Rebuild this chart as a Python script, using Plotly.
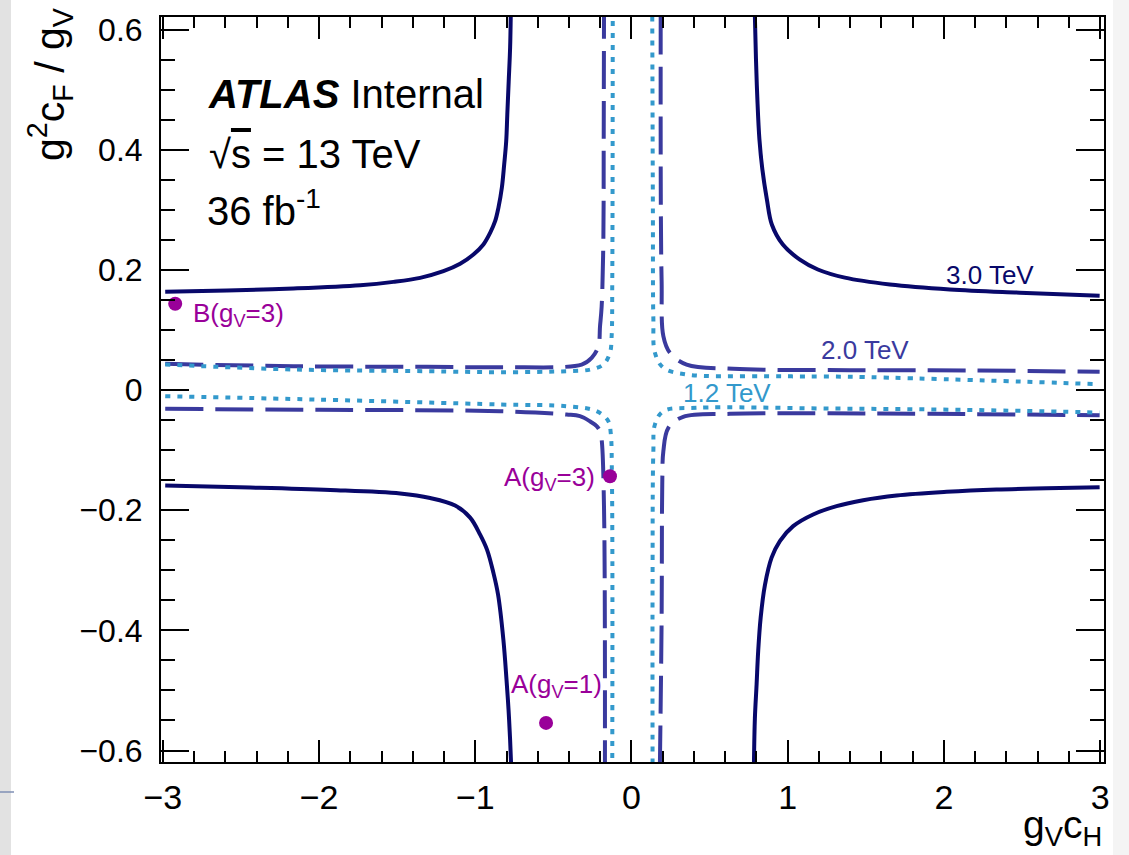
import plotly.graph_objects as go

# ---- Expected-limit contours in the (g_V c_H, g^2 c_F / g_V) plane ----
# 3.0 TeV (solid), four branches
M30_UL_X = [-2.985, -2.590, -2.164, -1.737, -1.524, -1.353, -1.204, -1.097, -1.012, -0.948, -0.905,
            -0.873, -0.852, -0.830, -0.815, -0.802, -0.795, -0.786, -0.777, -0.773]
M30_UL_Y = [0.1634, 0.1656, 0.1690, 0.1744, 0.1800, 0.1867, 0.1977, 0.2100, 0.2255, 0.2422, 0.2616,
            0.2809, 0.3032, 0.3365, 0.3753, 0.4141, 0.4586, 0.5140, 0.5696, 0.6215]
M30_LL_X = [-2.985, -2.441, -1.929, -1.481, -1.289, -1.129, -1.033, -0.969, -0.925, -0.884, -0.854,
            -0.820, -0.800, -0.787, -0.777, -0.771]
M30_LL_Y = [-0.159, -0.1623, -0.1664, -0.1723, -0.1798, -0.1923, -0.2123, -0.2406, -0.2656, -0.3042,
            -0.3408, -0.4158, -0.4824, -0.5324, -0.5824, -0.621]
M30_UR_X = [0.790, 0.797, 0.806, 0.819, 0.838, 0.867, 0.899, 0.969, 1.078, 1.193, 1.366, 1.654,
            2.038, 2.486, 2.997]
M30_UR_Y = [0.6215, 0.550, 0.4836, 0.417, 0.367, 0.317, 0.275, 0.242, 0.217, 0.2006, 0.187, 0.1756,
            0.1673, 0.162, 0.157]
M30_LR_X = [0.784, 0.790, 0.801, 0.811, 0.827, 0.854, 0.897, 0.950, 1.035, 1.163, 1.313, 1.483,
            1.697, 2.017, 2.337, 2.656, 2.997]
M30_LR_Y = [-0.621, -0.546, -0.490, -0.435, -0.379, -0.325, -0.279, -0.2513, -0.2266, -0.2071,
            -0.1933, -0.1834, -0.1756, -0.1695, -0.1656, -0.1635, -0.1618]

# 2.0 TeV (dashed)
M20_UL_X = [-2.985, -2.164, -1.310, -0.841, -0.319, -0.255, -0.212, -0.2015, -0.191, -0.180, -0.178, -0.176]
M20_UL_Y = [0.0436, 0.0396, 0.0386, 0.0380, 0.0424, 0.0536, 0.0729, 0.106, 0.139, 0.2505, 0.400, 0.622]
M20_LL_X = [-2.985, -2.0, -0.841, -0.415, -0.330, -0.266, -0.223, -0.2015, -0.191, -0.176, -0.170]
M20_LL_Y = [-0.0313, -0.033, -0.0352, -0.0408, -0.0436, -0.052, -0.060, -0.0686, -0.0824, -0.193, -0.622]
M20_UR_X = [0.187, 0.188, 0.193, 0.204, 0.246, 0.353, 0.651, 1.398, 2.2, 2.997]
M20_UR_Y = [0.622, 0.300, 0.181, 0.0896, 0.0619, 0.0424, 0.0353, 0.033, 0.0325, 0.0303]
M20_LR_X = [0.182, 0.193, 0.197, 0.204, 0.236, 0.331, 0.630, 1.483, 2.997]
M20_LR_Y = [-0.622, -0.379, -0.157, -0.102, -0.063, -0.0446, -0.0397, -0.0391, -0.0419]

# 1.2 TeV (dotted)
M12_UL_X = [-2.985, -2.164, -1.310, -0.841, -0.415, -0.265, -0.180, -0.1376, -0.127, -0.123, -0.120]
M12_UL_Y = [0.0424, 0.0341, 0.0313, 0.0296, 0.0313, 0.034, 0.0424, 0.062, 0.0896, 0.181, 0.622]
M12_LL_X = [-2.985, -2.0, -0.841, -0.415, -0.223, -0.148, -0.133, -0.125, -0.123]
M12_LL_Y = [-0.0103, -0.016, -0.0241, -0.027, -0.0352, -0.052, -0.0713, -0.150, -0.622]
M12_UR_X = [0.133, 0.137, 0.140, 0.150, 0.204, 0.353, 0.865, 1.398, 2.997]
M12_UR_Y = [0.622, 0.300, 0.120, 0.062, 0.037, 0.0258, 0.023, 0.022, 0.0097]
M12_LR_X = [0.135, 0.135, 0.140, 0.150, 0.204, 0.417, 1.270, 2.123, 2.997]
M12_LR_Y = [-0.622, -0.324, -0.102, -0.0574, -0.0353, -0.0297, -0.0308, -0.033, -0.0375]

# Benchmark models
BENCH_NAMES = ["B(g<sub>V</sub>=3)", "A(g<sub>V</sub>=3)", "A(g<sub>V</sub>=1)"]
BENCH_X = [-2.921, -0.1376, -0.547]
BENCH_Y = [0.1435, -0.1435, -0.554]

MASS_LABELS = ["3.0 TeV", "2.0 TeV", "1.2 TeV"]

FONT = "Liberation Sans, Arial, Helvetica, sans-serif"
C30 = "#08086a"
C20 = "#3a3a9e"
C12 = "#3399cc"
PURPLE = "#990099"

fig = go.Figure()

curves = [
    (M30_UL_X, M30_UL_Y, C30, "solid"), (M30_LL_X, M30_LL_Y, C30, "solid"),
    (M30_UR_X, M30_UR_Y, C30, "solid"), (M30_LR_X, M30_LR_Y, C30, "solid"),
    (M20_UL_X, M20_UL_Y, C20, "38px,12px"), (M20_LL_X, M20_LL_Y, C20, "38px,12px"),
    (M20_UR_X, M20_UR_Y, C20, "38px,12px"), (M20_LR_X, M20_LR_Y, C20, "38px,12px"),
    (M12_UL_X, M12_UL_Y, C12, "5px,7px"), (M12_LL_X, M12_LL_Y, C12, "5px,7px"),
    (M12_UR_X, M12_UR_Y, C12, "5px,7px"), (M12_LR_X, M12_LR_Y, C12, "5px,7px"),
]
for xs, ys, col, dash in curves:
    fig.add_trace(go.Scatter(
        x=xs, y=ys, mode="lines",
        line=dict(color=col, width=4, dash=dash, shape="spline", smoothing=1.0),
        showlegend=False, hoverinfo="skip"))

fig.add_trace(go.Scatter(
    x=BENCH_X, y=BENCH_Y, mode="markers",
    marker=dict(color=PURPLE, size=14, line=dict(width=0)),
    showlegend=False, cliponaxis=False))

W, H = 1129, 855
L, R, T, B = 161, 25, 17, 93
PW, PH = W - L - R, H - T - B


def px(xp):
    return (xp - L) / PW


def py(yp):
    return (H - B - yp) / PH


ann = []
# experiment label block
ann.append(dict(text="<b><i>ATLAS</i></b> Internal", x=px(206), y=py(94),
                xanchor="left", yanchor="middle", font=dict(size=40, color="black")))
ann.append(dict(text="√<span style='text-decoration:overline'>s</span> = 13 TeV", x=px(207), y=py(154),
                xanchor="left", yanchor="middle", font=dict(size=40, color="black")))
ann.append(dict(text="36 fb<sup>-1</sup>", x=px(205), y=py(208),
                xanchor="left", yanchor="middle", font=dict(size=40, color="black")))

# mass labels on the contours
ann.append(dict(text=MASS_LABELS[0], x=2.297, y=0.1906, xref="x", yref="y",
                xanchor="center", yanchor="middle", font=dict(size=26, color=C30)))
ann.append(dict(text=MASS_LABELS[1], x=1.494, y=0.0674, xref="x", yref="y",
                xanchor="center", yanchor="middle", font=dict(size=26, color=C20)))
ann.append(dict(text=MASS_LABELS[2], x=0.611, y=-0.0042, xref="x", yref="y",
                xanchor="center", yanchor="middle", font=dict(size=26, color=C12)))

# benchmark labels
ann.append(dict(text=BENCH_NAMES[0], x=-2.818, y=0.125, xref="x", yref="y",
                xanchor="left", yanchor="middle", font=dict(size=26, color=PURPLE)))
ann.append(dict(text=BENCH_NAMES[1], x=-0.221, y=-0.147, xref="x", yref="y",
                xanchor="right", yanchor="middle", font=dict(size=26, color=PURPLE)))
ann.append(dict(text=BENCH_NAMES[2], x=-0.480, y=-0.492, xref="x", yref="y",
                xanchor="center", yanchor="middle", font=dict(size=26, color=PURPLE)))

# axis titles
ann.append(dict(text="g<sup>2</sup>c<sub>F</sub> / g<sub>V</sub>", x=px(50), y=py(5),
                xanchor="center", yanchor="top", textangle=-90,
                font=dict(size=41, color="black")))
ann.append(dict(text="g<sub>V</sub>c<sub>H</sub>", x=px(1104), y=py(854),
                xanchor="right", yanchor="bottom", font=dict(size=39, color="black")))

for a in ann:
    a.setdefault("xref", "paper")
    a.setdefault("yref", "paper")
    a["showarrow"] = False
fig.update_layout(annotations=ann)

# page edge strips
fig.update_layout(shapes=[
    dict(type="rect", xref="paper", yref="paper", x0=px(0), x1=px(11), y0=py(H), y1=py(0),
         fillcolor="#e2e2e2", line=dict(width=0), layer="below"),
    dict(type="rect", xref="paper", yref="paper", x0=px(1113), x1=px(W), y0=py(H), y1=py(0),
         fillcolor="#f4f4f4", line=dict(width=0), layer="below"),
    dict(type="line", xref="paper", yref="paper", x0=px(0), x1=px(14), y0=py(792), y1=py(792),
         line=dict(color="#7f8fb5", width=1.5)),
])

axis_common = dict(showgrid=False, zeroline=False, showline=True, linecolor="black", linewidth=2,
                   mirror="allticks", ticks="inside", tickcolor="black", tickwidth=2)

fig.update_xaxes(range=[-3.012, 3.025], dtick=1, tick0=0, ticklen=22,
                 tickfont=dict(size=34, color="black", family=FONT), ticklabelstandoff=4,
                 minor=dict(dtick=0.2, tick0=0, ticklen=11, tickwidth=2, ticks="inside", tickcolor="black"),
                 **axis_common)
fig.update_yaxes(range=[-0.6191, 0.6208], dtick=0.2, tick0=0, ticklen=28,
                 tickfont=dict(size=32, color="black", family=FONT), ticklabelstandoff=10,
                 minor=dict(dtick=0.05, tick0=0, ticklen=14, tickwidth=2, ticks="inside", tickcolor="black"),
                 **axis_common)

fig.update_layout(
    width=W, height=H,
    margin=dict(l=L, r=R, t=T, b=B, pad=0),
    paper_bgcolor="white", plot_bgcolor="white",
    font=dict(family=FONT, color="black"),
    showlegend=False,
)

fig.write_html("out.html")
